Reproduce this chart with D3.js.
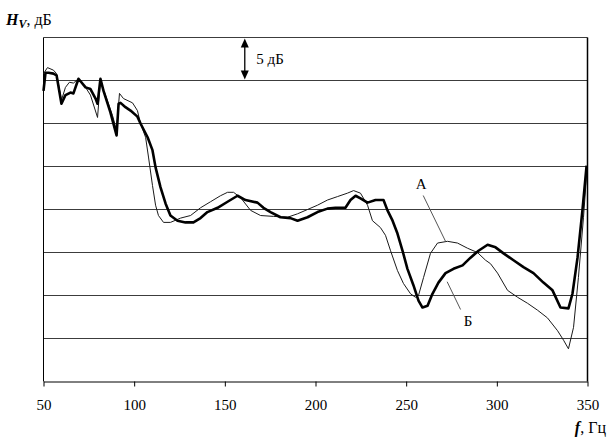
<!DOCTYPE html>
<html>
<head>
<meta charset="utf-8">
<script src="https://cdn.jsdelivr.net/npm/d3@7"></script>
<style>
  body { margin: 0; background: #fff; }
  text { font-family: "Liberation Serif", "Times New Roman", serif; fill: #000; }
</style>
</head>
<body>
<div id="chart"></div>
<script>
// curve A (thin line)
var freqA = [50, 52.2, 55.5, 57.2, 59.9, 62.1, 64.3, 66.5, 69.3, 73.2, 75.9, 79.8, 81.4, 84.2, 88.1, 90.3, 91.9, 94.1, 99.1, 101.8,
  103.5, 106.3, 107.9, 110.1, 111.8, 113.4, 116.2, 120, 125.6, 131.1, 136.6, 142.1, 147.6, 151.5, 154.8, 158.6, 164.2, 169.7, 176.8, 184.6,
  190.1, 195.6, 201.1, 206.6, 212.1, 217.6, 221, 224.8, 228.7, 231.4, 235.8, 238.6, 241.4, 245.2, 248.5, 252.4, 255.1, 256.8, 259.6, 263.4,
  267.3, 272.8, 278.3, 283.8, 289.3, 293.8, 296.5, 300.4, 305.9, 311.4, 316.9, 322.4, 327.9, 333.5, 336.8, 339.5, 342.3, 345, 347.8, 349.5];
var levelA = [35.8, 36.5, 36.2, 35.8, 32.7, 34.2, 34.8, 34.7, 35.2, 34.2, 33.3, 30.7, 35, 33.3, 30.9, 29.2, 33.5, 32.9, 32.4, 31.5,
  30, 28.4, 26.1, 22.8, 20.5, 19.3, 18.5, 18.5, 19, 19.3, 20.2, 20.9, 21.6, 22, 22, 21.4, 19.9, 19.3, 19.2, 19.1,
  19.5, 20, 20.5, 21.1, 21.5, 21.9, 22.2, 21.9, 20.5, 18.7, 17.9, 17, 15.2, 12.9, 11.4, 10.2, 9.8, 10, 12.1, 14.9,
  16.1, 16.3, 16.1, 15.5, 15, 14.1, 13.7, 12.6, 10.6, 9.8, 9.1, 8.3, 7.4, 5.9, 4.8, 3.8, 6.3, 12.1, 19.1, 24];

// curve Б (thick line)
var freqB = [50, 51.1, 52.8, 55.5, 57.2, 59.9, 62.1, 64.9, 66.5, 69.3, 73.2, 75.9, 78.7, 79.8, 81.4, 83.1, 86.9, 90.3, 91.4, 92.5,
  95.2, 98, 101.8, 103.5, 107.4, 110.1, 111.8, 114.5, 117.3, 120, 123.9, 128.3, 132.7, 136.6, 140.4, 146, 151.5, 157, 161.4, 168,
  171.3, 175.2, 180.7, 186.2, 190.1, 195.6, 201.1, 206.6, 211, 216.5, 219.3, 222.1, 224.8, 228.7, 233.1, 237.5, 239.7, 242.5, 245.2, 248,
  250.7, 254, 256.8, 259, 261.8, 264.5, 267.8, 271.7, 276.1, 281.1, 285.5, 289.9, 294.9, 299.3, 303.7, 309.2, 314.7, 320.2, 325.7, 330.7,
  335.1, 339.5, 341.7, 344.5, 347.2, 349.5];
var levelB = [33.8, 35.9, 35.9, 35.8, 35.6, 32.3, 33.3, 33.6, 33.5, 35.2, 34.2, 34, 32.9, 32.3, 35.2, 33.8, 31.3, 28.6, 32.3, 32.4,
  31.9, 31.5, 30.8, 30, 28.4, 26.9, 24.9, 22.6, 20.7, 19.3, 18.7, 18.5, 18.5, 19, 19.7, 20.2, 20.9, 21.6, 21.1, 20.8,
  20.2, 19.7, 19.1, 19, 18.7, 19.1, 19.7, 20.1, 20.2, 20.2, 21.1, 21.6, 21.3, 20.8, 21.1, 21.1, 19.9, 18.7, 17.2, 15.2,
  13.1, 11.2, 9.4, 8.6, 8.8, 10.2, 11.5, 12.6, 13.1, 13.5, 14.4, 15.2, 15.9, 15.6, 14.9, 14.1, 13.3, 12.6, 11.5, 10.6,
  8.6, 8.5, 10.2, 14.4, 19.9, 25.1];

var fTicks = [50, 100, 150, 200, 250, 300, 350];
var gridLevels = [5, 10, 15, 20, 25, 30, 35, 40];

var svgWidth = 613;
var svgHeight = 441;

var svg = d3.select("#chart")
  .append("svg")
  .attr("width", svgWidth)
  .attr("height", svgHeight);

// scales
var xScale = d3.scaleLinear().domain([50, 350]).range([43, 587]);
var yScale = d3.scaleLinear().domain([0, 40]).range([381, 37]);

var chartGroup = svg.append("g").attr("transform", "translate(0.5, 0.5)");

// horizontal grid lines
chartGroup.selectAll(".grid")
  .data(gridLevels)
  .enter()
  .append("line")
  .attr("x1", xScale(50))
  .attr("x2", xScale(350))
  .attr("y1", d => yScale(d))
  .attr("y2", d => yScale(d))
  .attr("stroke", "#3c3c3c")
  .attr("stroke-width", 1);

// left and right frame lines
chartGroup.append("line")
  .attr("x1", xScale(50)).attr("x2", xScale(50))
  .attr("y1", yScale(40)).attr("y2", yScale(0))
  .attr("stroke", "#000");
chartGroup.append("line")
  .attr("x1", xScale(350)).attr("x2", xScale(350))
  .attr("y1", yScale(40)).attr("y2", yScale(0))
  .attr("stroke", "#000").attr("stroke-width", 1.5);

// x axis
var xAxis = d3.axisBottom(xScale)
  .tickValues(fTicks)
  .tickSize(5)
  .tickPadding(13)
  .tickSizeOuter(0);

var xAxisGroup = chartGroup.append("g")
  .attr("transform", `translate(0, ${yScale(0)})`)
  .call(xAxis);
xAxisGroup.select(".domain").attr("stroke", "#000");
xAxisGroup.selectAll(".tick line").attr("stroke", "#000");
xAxisGroup.selectAll("text")
  .style("font-family", "'Liberation Serif', serif")
  .style("font-size", "15px")
  .attr("fill", "#000");

// curves
var line = d3.line()
  .x(d => xScale(d[0]))
  .y(d => yScale(d[1]));

chartGroup.append("path")
  .datum(d3.zip(freqA, levelA))
  .attr("fill", "none")
  .attr("stroke", "#1a1a1a")
  .attr("stroke-width", 1)
  .attr("stroke-linejoin", "round")
  .attr("d", line);

chartGroup.append("path")
  .datum(d3.zip(freqB, levelB))
  .attr("fill", "none")
  .attr("stroke", "#000")
  .attr("stroke-width", 2.6)
  .attr("stroke-linejoin", "round")
  .attr("d", line);

// 5 dB arrow
var arrowX = xScale(161);
chartGroup.append("line")
  .attr("x1", arrowX).attr("x2", arrowX)
  .attr("y1", yScale(40) + 6).attr("y2", yScale(35) - 6)
  .attr("stroke", "#000").attr("stroke-width", 1.3);
chartGroup.append("path")
  .attr("d", `M${arrowX},${yScale(40) + 1} l-4,9 l8,0 z`)
  .attr("fill", "#000");
chartGroup.append("path")
  .attr("d", `M${arrowX},${yScale(35) - 1} l-4,-9 l8,0 z`)
  .attr("fill", "#000");
svg.append("text")
  .attr("x", arrowX + 12)
  .attr("y", (yScale(40) + yScale(35)) / 2 + 5)
  .style("font-size", "15px")
  .text("5 дБ");

// curve labels with leader lines
chartGroup.append("line")
  .attr("x1", xScale(259.4)).attr("x2", xScale(271.7))
  .attr("y1", 195).attr("y2", yScale(16.3))
  .attr("stroke", "#555").attr("stroke-width", 1);
svg.append("text")
  .attr("x", xScale(258.5))
  .attr("y", 189)
  .attr("text-anchor", "middle")
  .style("font-size", "15px")
  .text("А");

chartGroup.append("line")
  .attr("x1", xScale(280)).attr("x2", xScale(272.6))
  .attr("y1", 309).attr("y2", yScale(11.6))
  .attr("stroke", "#555").attr("stroke-width", 1);
svg.append("text")
  .attr("x", xScale(284.4))
  .attr("y", 326)
  .attr("text-anchor", "middle")
  .style("font-size", "15px")
  .text("Б");

// axis titles
var yTitle = svg.append("text")
  .attr("x", 6)
  .attr("y", 25)
  .style("font-size", "16px");
yTitle.append("tspan").style("font-weight", "bold").style("font-style", "italic").text("H");
yTitle.append("tspan").attr("dy", 3).style("font-weight", "bold").style("font-style", "italic").style("font-size", "12px").text("V");
yTitle.append("tspan").attr("dy", -3).text(", дБ");

var xTitle = svg.append("text")
  .attr("x", 606)
  .attr("y", 433)
  .attr("text-anchor", "end")
  .style("font-size", "16px");
xTitle.append("tspan").style("font-weight", "bold").style("font-style", "italic").text("f");
xTitle.append("tspan").text(", Гц");
</script>
</body>
</html>
